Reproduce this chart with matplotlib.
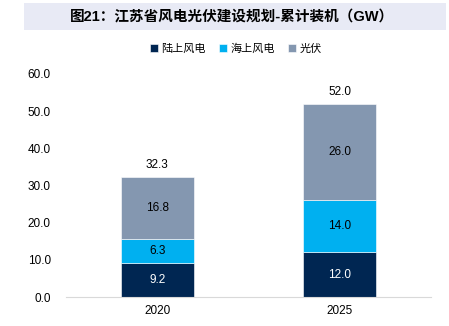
import matplotlib.pyplot as plt
from matplotlib.patches import Rectangle

plt.rcParams['font.family'] = ['Liberation Sans', 'Noto Sans CJK SC']

years = ['2020', '2025']
onshore = [9.2, 12.0]
offshore = [6.3, 14.0]
solar = [16.8, 26.0]
totals = [32.3, 52.0]
series_names = ['陆上风电', '海上风电', '光伏']

colors = ['#002652', '#00b0f0', '#8497b0']
text_colors = ['white', 'black', 'black']

fig = plt.figure(figsize=(4.49, 3.26), dpi=100)

# title band
fig.patches.append(Rectangle((24 / 449, 1 - 30 / 326), 422 / 449, 27 / 326,
                             transform=fig.transFigure, facecolor='#e8eaf5',
                             edgecolor='none', zorder=0))
fig.text(232 / 449, 1 - 17 / 326, '图21：江苏省风电光伏建设规划-累计装机（GW）',
         ha='center', va='center', fontsize=10.5, fontweight='bold',
         family=['Liberation Sans', 'Noto Sans CJK SC'])

ax = fig.add_axes([66 / 449, 1 - 297 / 326, 365 / 449, 223 / 326])

x = range(len(years))
bottom = [0, 0]
for vals, name, c, tc in zip([onshore, offshore, solar], series_names, colors, text_colors):
    ax.bar(x, vals, width=0.4, bottom=bottom, color=c, label=name,
           edgecolor='white', linewidth=0.4)
    for i, v in enumerate(vals):
        ax.text(i, bottom[i] + v / 2, f'{v:.1f}', ha='center', va='center',
                fontsize=8.5, color=tc)
    bottom = [b + v for b, v in zip(bottom, vals)]

for i, t in enumerate(totals):
    ax.text(i, t + 1.6, f'{t:.1f}', ha='center', va='bottom', fontsize=8.5)

ax.set_xlim(-0.5, 1.5)
ax.set_ylim(0, 60)
ax.set_yticks(range(0, 61, 10))
ax.set_yticklabels([f'{v:.1f}' for v in range(0, 61, 10)])
ax.set_xticks(list(x))
ax.set_xticklabels(years)
ax.tick_params(axis='both', length=0, labelsize=8.5, pad=6)
ax.tick_params(axis='y', pad=11)
for s in ['top', 'right', 'left']:
    ax.spines[s].set_visible(False)
ax.spines['bottom'].set_color('#d9d9d9')

fig.legend(loc='center', bbox_to_anchor=(236 / 449, 1 - 49 / 326), ncol=3,
           frameon=False, fontsize=8, handlelength=0.7, handleheight=0.7,
           handletextpad=0.3, columnspacing=1.2,
           prop={'family': ['Noto Sans CJK SC'], 'size': 8, 'weight': 'light'})

fig.savefig('out.png', dpi=100)
